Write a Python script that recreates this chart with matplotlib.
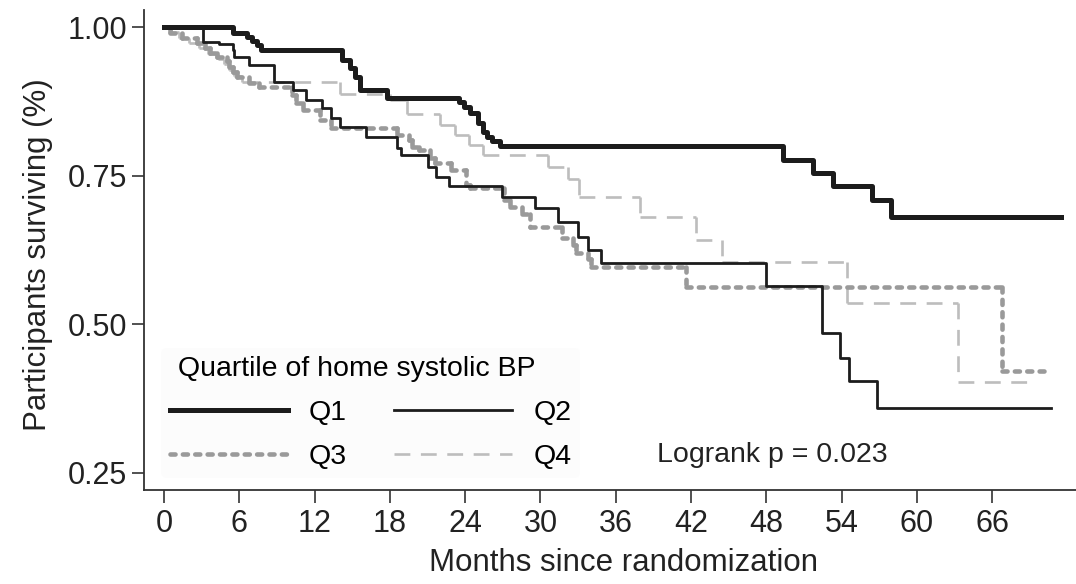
import matplotlib
matplotlib.use("Agg")
import matplotlib.pyplot as plt
import numpy as np
from matplotlib.collections import LineCollection
from matplotlib.lines import Line2D

plt.rcParams.update({"font.family": "Liberation Sans"})

# ---- data: Kaplan-Meier step points (month, survival) ----
q1_t = [0, 5.5, 6.6, 7.0, 7.4, 7.7, 14.2, 14.8, 15.2, 15.6, 17.8, 23.5, 23.9, 24.4,
        25.0, 25.4, 25.7, 26.1, 26.8, 49.3, 51.7, 53.3, 56.4, 57.9]
q1_s = [1.0, 0.990, 0.984, 0.977, 0.970, 0.961, 0.944, 0.931, 0.916, 0.894, 0.881,
        0.874, 0.865, 0.855, 0.838, 0.823, 0.815, 0.808, 0.800, 0.776, 0.755, 0.733,
        0.709, 0.681]
q1_end = 71.5

q2_t = [0, 3.1, 4.4, 5.5, 5.6, 6.8, 8.8, 10.3, 11.3, 12.6, 13.3, 14.0, 16.1, 18.6,
        18.9, 21.0, 21.7, 22.7, 26.9, 29.6, 31.4, 33.0, 33.8, 34.8, 48.0, 52.4, 53.9,
        54.6, 56.8]
q2_s = [1.0, 0.975, 0.972, 0.961, 0.950, 0.936, 0.908, 0.894, 0.877, 0.863, 0.847,
        0.832, 0.815, 0.797, 0.784, 0.765, 0.748, 0.733, 0.714, 0.695, 0.672, 0.647,
        0.625, 0.603, 0.565, 0.485, 0.444, 0.405, 0.360]
q2_end = 70.7

q3_t = [0, 0.5, 1.4, 2.6, 3.3, 3.7, 4.2, 5.0, 5.2, 5.5, 5.8, 6.8, 7.6, 10.2, 10.5,
        11.1, 12.4, 13.3, 18.6, 19.5, 19.8, 20.3, 21.2, 21.6, 22.9, 24.1, 24.4, 27.1,
        27.6, 28.5, 29.2, 31.7, 32.6, 32.8, 33.8, 34.0, 41.6, 66.8]
q3_s = [1.0, 0.990, 0.981, 0.973, 0.965, 0.956, 0.950, 0.942, 0.933, 0.924, 0.916,
        0.906, 0.899, 0.886, 0.872, 0.860, 0.843, 0.830, 0.818, 0.810, 0.798, 0.793,
        0.779, 0.772, 0.759, 0.734, 0.729, 0.709, 0.697, 0.685, 0.664, 0.645, 0.634,
        0.620, 0.610, 0.596, 0.562, 0.422]
q3_end = 70.1

q4_t = [0, 0.6, 1.2, 2.0, 2.8, 3.5, 4.3, 4.8, 5.2, 5.6, 6.2, 14.0, 18.0, 19.4, 22.0,
        23.2, 24.3, 25.4, 30.6, 32.2, 33.1, 37.9, 42.4, 44.5, 54.4, 63.3]
q4_s = [1.0, 0.991, 0.982, 0.973, 0.964, 0.955, 0.946, 0.937, 0.928, 0.918, 0.907,
        0.888, 0.878, 0.853, 0.836, 0.818, 0.801, 0.785, 0.765, 0.745, 0.714, 0.680,
        0.641, 0.604, 0.536, 0.403]
q4_end = 69.4

labels = ["Q1", "Q2", "Q3", "Q4"]
xticks = [0, 6, 12, 18, 24, 30, 36, 42, 48, 54, 60, 66]
yticks = [0.25, 0.50, 0.75, 1.00]

DARK = "#1c1c1c"
GREY = "#9a9a9a"
LIGHT = "#bdbdbd"
Q3_DASH = (0, (1.1, 1.6))
Q4_DASH = (0, (6, 4))


def step_segments(t, s, end):
    """horizontal + vertical pieces so every piece restarts its dash pattern"""
    segs = []
    ts = list(t) + [end]
    for i in range(len(s)):
        segs.append([(ts[i], s[i]), (ts[i+1], s[i])])
        if i + 1 < len(s):
            segs.append([(ts[i+1], s[i]), (ts[i+1], s[i+1])])
    return segs


fig = plt.figure(figsize=(10.76, 5.84), dpi=100, facecolor="white")
ax = fig.add_axes([144/1076, 94/584, 932/1076, 480/584])

# Q4 (light dashed) and Q3 (grey short dashes) as per-segment collections
lc4 = LineCollection(step_segments(q4_t, q4_s, q4_end), colors=LIGHT, linewidths=1.9,
                     linestyles=[Q4_DASH], capstyle="butt", zorder=2)
ax.add_collection(lc4)
lc3 = LineCollection(step_segments(q3_t, q3_s, q3_end), colors=GREY, linewidths=3.3,
                     linestyles=[Q3_DASH], capstyle="round", zorder=3)
ax.add_collection(lc3)

ax.step(q2_t + [q2_end], q2_s + [q2_s[-1]], where="post", color=DARK, lw=2.0, zorder=4)
ax.step(q1_t + [q1_end], q1_s + [q1_s[-1]], where="post", color=DARK, lw=3.6, zorder=5)

ax.set_xlim(-1.59, 72.67)
ax.set_ylim(0.2214, 1.0286)
ax.set_xticks(xticks)
ax.set_yticks(yticks)
ax.set_yticklabels([f"{v:.2f}" for v in yticks])
ax.tick_params(axis="both", direction="out", length=9, width=1.2, color="#333333",
               labelsize=22, labelcolor="#222222")
ax.tick_params(axis="x", pad=5)
ax.tick_params(axis="y", pad=3)
for side in ["top", "right"]:
    ax.spines[side].set_visible(False)
for side in ["left", "bottom"]:
    ax.spines[side].set_linewidth(1.3)
    ax.spines[side].set_color("#333333")

ax.set_xlabel("Months since randomization", fontsize=22.5, color="#222222")
ax.set_ylabel("Participants surviving (%)", fontsize=22.5, color="#222222")
ax.xaxis.set_label_coords(0.514, -0.12)
ax.yaxis.set_label_coords(-0.098, 0.49)

h1 = Line2D([], [], color=DARK, lw=3.6)
h2 = Line2D([], [], color=DARK, lw=2.0)
h3 = Line2D([], [], color=GREY, lw=3.3, linestyle=Q3_DASH, dash_capstyle="round")
h4 = Line2D([], [], color=LIGHT, lw=1.9, linestyle=Q4_DASH)
# ncol=2 fills column-wise: order so rows read Q1 Q2 / Q3 Q4
leg = ax.legend([h1, h3, h2, h4], [labels[0], labels[2], labels[1], labels[3]],
                ncol=2, loc="upper left", bbox_to_anchor=(0.003, 0.326),
                title=" Quartile of home systolic BP", fontsize=20.5,
                title_fontsize=20.5, frameon=True, handlelength=4.15,
                handletextpad=0.75, columnspacing=1.65, labelspacing=0.62,
                borderpad=0.3, alignment="left")
leg.get_frame().set_facecolor("#fcfcfc")
leg.get_frame().set_edgecolor("none")

ax.text(0.550, 0.073, "Logrank p = 0.023", transform=ax.transAxes, fontsize=20.5,
        color="#222222", ha="left", va="center")

fig.savefig("out.png", dpi=100, facecolor="white")
